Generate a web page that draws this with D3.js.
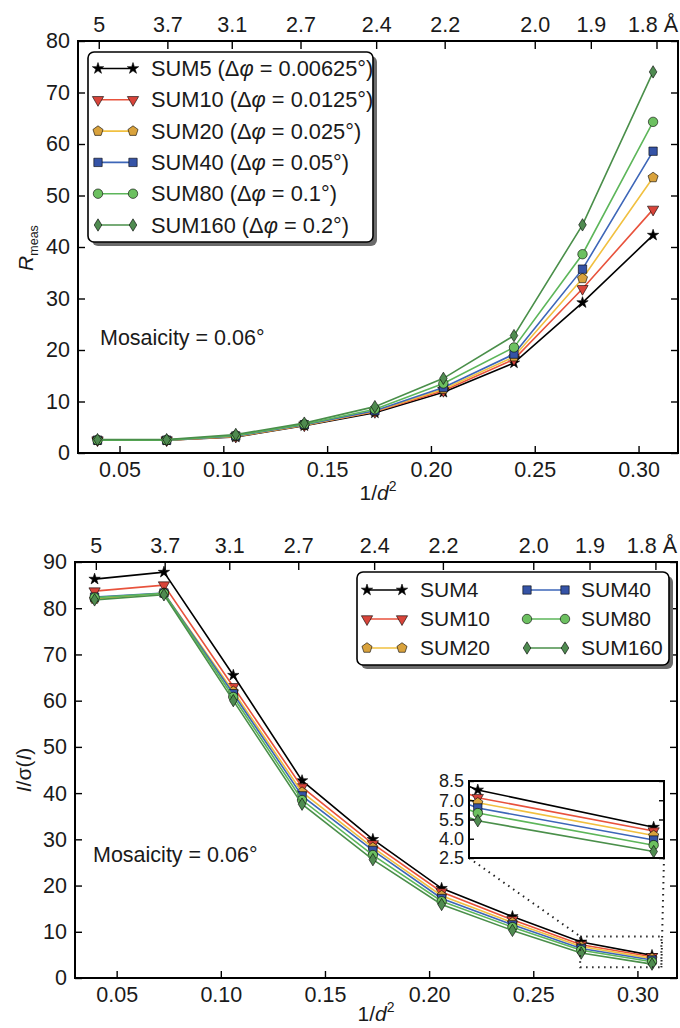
<!DOCTYPE html>
<html>
<head>
<meta charset="utf-8">
<script src="https://cdn.jsdelivr.net/npm/d3@7"></script>
<style>
body { margin: 0; background: #fff; }
</style>
</head>
<body>
<div id="chart"></div>
<script>
const WIDTH = 680
const HEIGHT = 1028
const FONT = '"Liberation Sans", Arial, Helvetica, sans-serif'
const TICK_FS = 21.5

// resolution shells (1/d^2) and the d-spacing ticks on top
const invD2 = [0.0394, 0.0727, 0.106, 0.139, 0.173, 0.206, 0.240, 0.273, 0.307]
const dTicks = [5, 3.7, 3.1, 2.7, 2.4, 2.2, 2.0, 1.9, 1.8]
const dTickLabels = ['5', '3.7', '3.1', '2.7', '2.4', '2.2', '2.0', '1.9', '1.8 Å']
const xTicks = [0.05, 0.10, 0.15, 0.20, 0.25, 0.30]
const X_DOMAIN = [0.03, 0.319]

// top panel: Rmeas
const rmeasNames = ['SUM5', 'SUM10', 'SUM20', 'SUM40', 'SUM80', 'SUM160']
const rmeasDelta = ['0.00625', '0.0125', '0.025', '0.05', '0.1', '0.2']
const rmeasSum5 = [2.5, 2.5, 3.1, 5.3, 7.8, 11.8, 17.5, 29.2, 42.3]
const rmeasSum10 = [2.5, 2.5, 3.2, 5.4, 8.0, 12.1, 18.2, 31.9, 47.3]
const rmeasSum20 = [2.5, 2.5, 3.2, 5.4, 8.1, 12.4, 18.7, 33.9, 53.5]
const rmeasSum40 = [2.5, 2.5, 3.3, 5.5, 8.2, 12.7, 19.2, 35.7, 58.6]
const rmeasSum80 = [2.5, 2.5, 3.4, 5.6, 8.5, 13.5, 20.5, 38.6, 64.3]
const rmeasSum160 = [2.6, 2.6, 3.6, 5.8, 9.0, 14.5, 22.8, 44.3, 74.0]
const rmeasTicks = [0, 10, 20, 30, 40, 50, 60, 70, 80]

// bottom panel: I/sigma(I)
const isigNames = ['SUM4', 'SUM10', 'SUM20', 'SUM40', 'SUM80', 'SUM160']
const isigSum4 = [86.3, 87.8, 65.5, 42.7, 30.0, 19.4, 13.3, 7.8, 4.9]
const isigSum10 = [83.7, 85.0, 63.0, 41.3, 29.0, 18.6, 12.6, 7.2, 4.6]
const isigSum20 = [82.0, 83.3, 62.0, 40.2, 28.2, 17.8, 12.0, 6.8, 4.25]
const isigSum40 = [82.4, 83.3, 61.5, 39.4, 27.6, 17.2, 11.5, 6.4, 3.9]
const isigSum80 = [82.3, 83.2, 60.8, 38.5, 26.6, 16.6, 11.0, 6.0, 3.5]
const isigSum160 = [81.8, 82.9, 60.0, 37.6, 25.6, 15.9, 10.3, 5.4, 3.0]
const isigTicks = [0, 10, 20, 30, 40, 50, 60, 70, 80, 90]

// inset of the bottom panel
const insetXDomain = [0.2713, 0.309]
const insetYDomain = [2.5, 8.5]
const insetTicks = [2.5, 4.0, 5.5, 7.0, 8.5]
const zoomBoxX = [0.2725, 0.3115]
const zoomBoxY = [2.3, 9.0]

const STYLES = [
    {line: '#000000', fill: '#000000', marker: 'star'},
    {line: '#E8523C', fill: '#D8443A', marker: 'triDown'},
    {line: '#F1C040', fill: '#D9A23C', marker: 'pentagon'},
    {line: '#3D66B8', fill: '#3553A6', marker: 'square'},
    {line: '#5DB65A', fill: '#6CC060', marker: 'circle'},
    {line: '#4A8F4A', fill: '#4F8B50', marker: 'diamond'}
]

function markerPath(type) {
    if (type === 'star') return d3.symbol(d3.symbolStar, 40)()
    if (type === 'triDown') return d3.symbol(d3.symbolTriangle, 55)()
    if (type === 'square') return d3.symbol(d3.symbolSquare, 70)()
    if (type === 'circle') return d3.symbol(d3.symbolCircle, 70)()
    if (type === 'pentagon') {
        let pts = d3.range(5).map(k => {
            let a = -Math.PI / 2 + k * 2 * Math.PI / 5
            return [5.3 * Math.cos(a), 5.3 * Math.sin(a)]
        })
        return 'M' + pts.map(p => p.join(',')).join('L') + 'Z'
    }
    return 'M0,-6.2L3.8,0L0,6.2L-3.8,0Z'
}

function drawMarker(g, type, fill, cx, cy) {
    g.append('path')
        .attr('d', markerPath(type))
        .attr('transform', `translate(${cx},${cy})` + (type === 'triDown' ? ' rotate(180)' : ''))
        .attr('fill', fill)
        .attr('stroke', '#000')
        .attr('stroke-width', 0.6)
}

function drawSeries(g, x, y, series) {
    series.forEach((values, i) => {
        let st = STYLES[i]
        let pts = values.map((v, k) => [invD2[k], v])
        g.append('path')
            .datum(pts)
            .attr('fill', 'none')
            .attr('stroke', st.line)
            .attr('stroke-width', 1.6)
            .attr('d', d3.line().x(d => x(d[0])).y(d => y(d[1])))
        pts.forEach(d => drawMarker(g, st.marker, st.fill, x(d[0]), y(d[1])))
    })
}

function styleAxis(sel, size) {
    sel.attr('font-family', FONT).attr('font-size', size)
    sel.select('.domain').remove()
    sel.selectAll('.tick line').attr('stroke', '#000').attr('stroke-width', 1.4)
    sel.selectAll('.tick text').attr('fill', '#1a1a1a')
}

const svg = d3.select('#chart')
    .append('svg')
    .attr('width', WIDTH)
    .attr('height', HEIGHT)

svg.append('rect').attr('width', WIDTH).attr('height', HEIGHT).attr('fill', '#fff')

function drawPanel(p) {
    let x = d3.scaleLinear().domain(X_DOMAIN).range([p.left, p.right])
    let y = d3.scaleLinear().domain(p.yDomain).range([p.bottom, p.top])
    let g = svg.append('g')

    drawSeries(g, x, y, p.series)

    g.append('g')
        .attr('transform', `translate(0,${p.bottom})`)
        .call(d3.axisBottom(x).tickValues(xTicks).tickFormat(d3.format('.2f')).tickSizeInner(-7).tickSizeOuter(0).tickPadding(9))
        .call(styleAxis, TICK_FS)
    let topAxis = g.append('g')
        .attr('transform', `translate(0,${p.top})`)
        .call(d3.axisTop(x).tickValues(dTicks.map(d => 1 / (d * d))).tickFormat((d, i) => dTickLabels[i]).tickSizeInner(-8).tickSizeOuter(0).tickPadding(9))
        .call(styleAxis, TICK_FS)
    // keep the angstrom label inside the page
    topAxis.selectAll('.tick text').filter((d, i) => i === dTicks.length - 1).attr('dx', -4)
    g.append('g')
        .attr('transform', `translate(${p.left},0)`)
        .call(d3.axisLeft(y).tickValues(p.yTicks).tickFormat(d3.format('d')).tickSizeInner(-7).tickSizeOuter(0).tickPadding(8))
        .call(styleAxis, TICK_FS)
    g.append('g')
        .attr('transform', `translate(${p.right},0)`)
        .call(d3.axisRight(y).tickValues(p.yTicks).tickFormat('').tickSizeInner(-7).tickSizeOuter(0))
        .call(styleAxis, TICK_FS)

    g.append('rect')
        .attr('x', p.left).attr('y', p.top)
        .attr('width', p.right - p.left).attr('height', p.bottom - p.top)
        .attr('fill', 'none').attr('stroke', '#000').attr('stroke-width', 2)

    // x label 1/d^2
    let xl = g.append('text')
        .attr('x', (p.left + p.right) / 2).attr('y', p.bottom + p.xLabelGap)
        .attr('text-anchor', 'middle')
        .attr('font-family', FONT).attr('font-size', 21).attr('fill', '#1a1a1a')
    xl.append('tspan').text('1/')
    xl.append('tspan').attr('font-style', 'italic').text('d')
    xl.append('tspan').attr('font-size', 14).attr('dy', -9).text('2')

    g.append('text')
        .attr('x', p.mosaicX).attr('y', y(p.mosaicY))
        .attr('dy', '0.35em')
        .attr('font-family', FONT).attr('font-size', 21.5).attr('fill', '#1a1a1a')
        .text('Mosaicity = 0.06°')

    return {g, x, y}
}

function legendFrame(g, lx, ly, lw, lh) {
    g.append('rect')
        .attr('x', lx + 4).attr('y', ly + 4).attr('width', lw).attr('height', lh)
        .attr('rx', 6).attr('fill', '#6b6b6b')
    g.append('rect')
        .attr('x', lx).attr('y', ly).attr('width', lw).attr('height', lh)
        .attr('rx', 6).attr('fill', '#fff').attr('stroke', '#000').attr('stroke-width', 1.6)
}

function legendEntry(g, i, x0, x1, yy) {
    let st = STYLES[i]
    g.append('line')
        .attr('x1', x0).attr('x2', x1).attr('y1', yy).attr('y2', yy)
        .attr('stroke', st.line).attr('stroke-width', 1.6)
    drawMarker(g, st.marker, st.fill, x0, yy)
    drawMarker(g, st.marker, st.fill, x1, yy)
}

// ---------- top panel ----------
let rmeasPanel = drawPanel({
    left: 78, right: 678, top: 41, bottom: 453,
    yDomain: [0, 80], yTicks: rmeasTicks,
    series: [rmeasSum5, rmeasSum10, rmeasSum20, rmeasSum40, rmeasSum80, rmeasSum160],
    mosaicX: 100, mosaicY: 22.4, xLabelGap: 47
})

let rl = svg.append('text')
    .attr('transform', 'translate(33,248) rotate(-90)')
    .attr('text-anchor', 'middle')
    .attr('font-family', FONT).attr('font-size', 21).attr('fill', '#1a1a1a')
rl.append('tspan').attr('font-style', 'italic').text('R')
rl.append('tspan').attr('font-size', 12.5).attr('dy', 5).text('meas')

let leg1 = svg.append('g')
legendFrame(leg1, 88, 52, 285, 190)
rmeasNames.forEach((name, i) => {
    let yy = 68.5 + i * 31.3
    legendEntry(leg1, i, 98, 133, yy)
    let t = leg1.append('text')
        .attr('x', 151).attr('y', yy).attr('dy', '0.35em')
        .attr('font-family', FONT).attr('font-size', 21.8).attr('fill', '#1a1a1a')
    t.append('tspan').text(name + ' (Δ')
    t.append('tspan').attr('font-style', 'italic').text('φ')
    t.append('tspan').text(' = ' + rmeasDelta[i] + '°)')
})

// ---------- bottom panel ----------
let isigPanel = drawPanel({
    left: 75, right: 677, top: 562, bottom: 978,
    yDomain: [0, 90], yTicks: isigTicks,
    series: [isigSum4, isigSum10, isigSum20, isigSum40, isigSum80, isigSum160],
    mosaicX: 93, mosaicY: 26.8, xLabelGap: 43
})

let il = svg.append('text')
    .attr('transform', 'translate(31,770) rotate(-90)')
    .attr('text-anchor', 'middle')
    .attr('font-family', FONT).attr('font-size', 21).attr('fill', '#1a1a1a')
il.append('tspan').attr('font-style', 'italic').text('I')
il.append('tspan').text('/σ(')
il.append('tspan').attr('font-style', 'italic').text('I')
il.append('tspan').text(')')

let leg2 = svg.append('g')
legendFrame(leg2, 357, 572, 312, 93)
isigNames.forEach((name, i) => {
    let col = Math.floor(i / 3)
    let yy = 590 + (i % 3) * 29
    let x0 = col === 0 ? 367 : 527
    let x1 = col === 0 ? 402 : 565
    legendEntry(leg2, i, x0, x1, yy)
    leg2.append('text')
        .attr('x', col === 0 ? 420 : 581).attr('y', yy).attr('dy', '0.35em')
        .attr('font-family', FONT).attr('font-size', 21).attr('fill', '#1a1a1a')
        .text(name)
})

// ---------- inset ----------
const IN = {left: 469, right: 664, top: 781, bottom: 858}
let ix = d3.scaleLinear().domain(insetXDomain).range([IN.left, IN.right])
let iy = d3.scaleLinear().domain(insetYDomain).range([IN.bottom, IN.top])

// dotted zoom box and connectors
let zx0 = isigPanel.x(zoomBoxX[0]), zx1 = isigPanel.x(zoomBoxX[1])
let zy0 = isigPanel.y(zoomBoxY[0]), zy1 = isigPanel.y(zoomBoxY[1])
let dots = svg.append('g')
    .attr('fill', 'none').attr('stroke', '#222').attr('stroke-width', 2)
    .attr('stroke-dasharray', '1.5,4.5')
dots.append('rect').attr('x', zx0).attr('y', zy1).attr('width', zx1 - zx0).attr('height', zy0 - zy1)
dots.append('line').attr('x1', IN.left).attr('y1', IN.bottom).attr('x2', zx0).attr('y2', zy1)
dots.append('line').attr('x1', IN.right).attr('y1', IN.bottom).attr('x2', zx1).attr('y2', zy0)

svg.append('rect')
    .attr('x', IN.left).attr('y', IN.top).attr('width', IN.right - IN.left).attr('height', IN.bottom - IN.top)
    .attr('fill', '#fff')

svg.append('clipPath').attr('id', 'insetClip')
    .append('rect')
    .attr('x', IN.left).attr('y', IN.top - 8).attr('width', IN.right - IN.left).attr('height', IN.bottom - IN.top + 8)

let ing = svg.append('g').attr('clip-path', 'url(#insetClip)')
drawSeries(ing, ix, iy, [isigSum4, isigSum10, isigSum20, isigSum40, isigSum80, isigSum160])

svg.append('g')
    .attr('transform', `translate(${IN.left},0)`)
    .call(d3.axisLeft(iy).tickValues(insetTicks).tickFormat(d3.format('.1f')).tickSizeInner(-5).tickSizeOuter(0).tickPadding(5))
    .call(styleAxis, 18)
svg.append('g')
    .attr('transform', `translate(${IN.right},0)`)
    .call(d3.axisRight(iy).tickValues(insetTicks).tickFormat('').tickSizeInner(-5).tickSizeOuter(0))
    .call(styleAxis, 18)

svg.append('rect')
    .attr('x', IN.left).attr('y', IN.top).attr('width', IN.right - IN.left).attr('height', IN.bottom - IN.top)
    .attr('fill', 'none').attr('stroke', '#000').attr('stroke-width', 2)
</script>
</body>
</html>
